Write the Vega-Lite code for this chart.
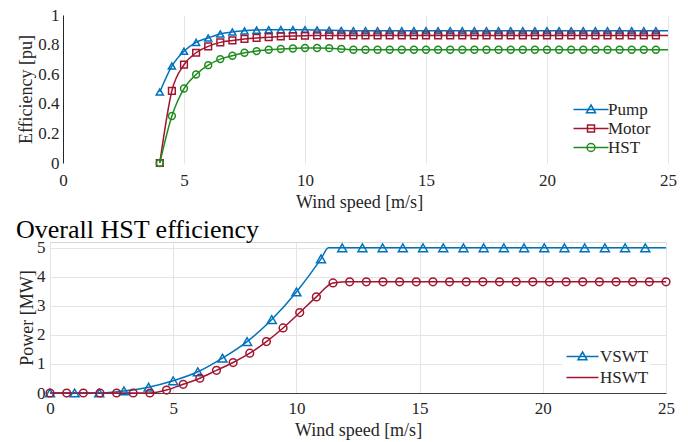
{
  "$schema": "https://vega.github.io/schema/vega-lite/v6.json",
  "background": "white",
  "padding": {"left": 15, "top": 6, "right": 5, "bottom": 2},
  "datasets": {
    "eff": [
      {"speed": 4, "value": 0.48, "series": "Pump", "marker": true},
      {"speed": 4.5, "value": 0.655, "series": "Pump", "marker": true},
      {"speed": 5, "value": 0.755, "series": "Pump", "marker": true},
      {"speed": 5.5, "value": 0.815, "series": "Pump", "marker": true},
      {"speed": 6, "value": 0.845, "series": "Pump", "marker": true},
      {"speed": 6.5, "value": 0.872, "series": "Pump", "marker": true},
      {"speed": 7, "value": 0.885, "series": "Pump", "marker": true},
      {"speed": 7.5, "value": 0.893, "series": "Pump", "marker": true},
      {"speed": 8, "value": 0.898, "series": "Pump", "marker": true},
      {"speed": 8.5, "value": 0.9, "series": "Pump", "marker": true},
      {"speed": 9, "value": 0.901, "series": "Pump", "marker": true},
      {"speed": 9.5, "value": 0.901, "series": "Pump", "marker": true},
      {"speed": 10, "value": 0.9, "series": "Pump", "marker": true},
      {"speed": 10.5, "value": 0.899, "series": "Pump", "marker": true},
      {"speed": 11, "value": 0.897, "series": "Pump", "marker": true},
      {"speed": 11.5, "value": 0.895, "series": "Pump", "marker": true},
      {"speed": 12, "value": 0.894, "series": "Pump", "marker": true},
      {"speed": 12.5, "value": 0.894, "series": "Pump", "marker": true},
      {"speed": 13, "value": 0.894, "series": "Pump", "marker": true},
      {"speed": 13.5, "value": 0.894, "series": "Pump", "marker": true},
      {"speed": 14, "value": 0.894, "series": "Pump", "marker": true},
      {"speed": 14.5, "value": 0.894, "series": "Pump", "marker": true},
      {"speed": 15, "value": 0.894, "series": "Pump", "marker": true},
      {"speed": 15.5, "value": 0.894, "series": "Pump", "marker": true},
      {"speed": 16, "value": 0.894, "series": "Pump", "marker": true},
      {"speed": 16.5, "value": 0.894, "series": "Pump", "marker": true},
      {"speed": 17, "value": 0.894, "series": "Pump", "marker": true},
      {"speed": 17.5, "value": 0.894, "series": "Pump", "marker": true},
      {"speed": 18, "value": 0.894, "series": "Pump", "marker": true},
      {"speed": 18.5, "value": 0.894, "series": "Pump", "marker": true},
      {"speed": 19, "value": 0.894, "series": "Pump", "marker": true},
      {"speed": 19.5, "value": 0.894, "series": "Pump", "marker": true},
      {"speed": 20, "value": 0.894, "series": "Pump", "marker": true},
      {"speed": 20.5, "value": 0.894, "series": "Pump", "marker": true},
      {"speed": 21, "value": 0.894, "series": "Pump", "marker": true},
      {"speed": 21.5, "value": 0.894, "series": "Pump", "marker": true},
      {"speed": 22, "value": 0.894, "series": "Pump", "marker": true},
      {"speed": 22.5, "value": 0.894, "series": "Pump", "marker": true},
      {"speed": 23, "value": 0.894, "series": "Pump", "marker": true},
      {"speed": 23.5, "value": 0.894, "series": "Pump", "marker": true},
      {"speed": 24, "value": 0.894, "series": "Pump", "marker": true},
      {"speed": 24.5, "value": 0.894, "series": "Pump", "marker": true},
      {"speed": 25, "value": 0.894, "series": "Pump", "marker": false},

      {"speed": 4, "value": 0, "series": "Motor", "marker": true},
      {"speed": 4.5, "value": 0.488, "series": "Motor", "marker": true},
      {"speed": 5, "value": 0.664, "series": "Motor", "marker": true},
      {"speed": 5.5, "value": 0.745, "series": "Motor", "marker": true},
      {"speed": 6, "value": 0.788, "series": "Motor", "marker": true},
      {"speed": 6.5, "value": 0.815, "series": "Motor", "marker": true},
      {"speed": 7, "value": 0.828, "series": "Motor", "marker": true},
      {"speed": 7.5, "value": 0.838, "series": "Motor", "marker": true},
      {"speed": 8, "value": 0.845, "series": "Motor", "marker": true},
      {"speed": 8.5, "value": 0.85, "series": "Motor", "marker": true},
      {"speed": 9, "value": 0.855, "series": "Motor", "marker": true},
      {"speed": 9.5, "value": 0.858, "series": "Motor", "marker": true},
      {"speed": 10, "value": 0.86, "series": "Motor", "marker": true},
      {"speed": 10.5, "value": 0.862, "series": "Motor", "marker": true},
      {"speed": 11, "value": 0.862, "series": "Motor", "marker": true},
      {"speed": 11.5, "value": 0.862, "series": "Motor", "marker": true},
      {"speed": 12, "value": 0.862, "series": "Motor", "marker": true},
      {"speed": 12.5, "value": 0.862, "series": "Motor", "marker": true},
      {"speed": 13, "value": 0.862, "series": "Motor", "marker": true},
      {"speed": 13.5, "value": 0.862, "series": "Motor", "marker": true},
      {"speed": 14, "value": 0.862, "series": "Motor", "marker": true},
      {"speed": 14.5, "value": 0.862, "series": "Motor", "marker": true},
      {"speed": 15, "value": 0.862, "series": "Motor", "marker": true},
      {"speed": 15.5, "value": 0.862, "series": "Motor", "marker": true},
      {"speed": 16, "value": 0.862, "series": "Motor", "marker": true},
      {"speed": 16.5, "value": 0.862, "series": "Motor", "marker": true},
      {"speed": 17, "value": 0.862, "series": "Motor", "marker": true},
      {"speed": 17.5, "value": 0.862, "series": "Motor", "marker": true},
      {"speed": 18, "value": 0.862, "series": "Motor", "marker": true},
      {"speed": 18.5, "value": 0.862, "series": "Motor", "marker": true},
      {"speed": 19, "value": 0.862, "series": "Motor", "marker": true},
      {"speed": 19.5, "value": 0.862, "series": "Motor", "marker": true},
      {"speed": 20, "value": 0.862, "series": "Motor", "marker": true},
      {"speed": 20.5, "value": 0.862, "series": "Motor", "marker": true},
      {"speed": 21, "value": 0.862, "series": "Motor", "marker": true},
      {"speed": 21.5, "value": 0.862, "series": "Motor", "marker": true},
      {"speed": 22, "value": 0.862, "series": "Motor", "marker": true},
      {"speed": 22.5, "value": 0.862, "series": "Motor", "marker": true},
      {"speed": 23, "value": 0.862, "series": "Motor", "marker": true},
      {"speed": 23.5, "value": 0.862, "series": "Motor", "marker": true},
      {"speed": 24, "value": 0.862, "series": "Motor", "marker": true},
      {"speed": 24.5, "value": 0.862, "series": "Motor", "marker": true},
      {"speed": 25, "value": 0.862, "series": "Motor", "marker": false},

      {"speed": 4, "value": 0, "series": "HST", "marker": true},
      {"speed": 4.5, "value": 0.318, "series": "HST", "marker": true},
      {"speed": 5, "value": 0.503, "series": "HST", "marker": true},
      {"speed": 5.5, "value": 0.598, "series": "HST", "marker": true},
      {"speed": 6, "value": 0.661, "series": "HST", "marker": true},
      {"speed": 6.5, "value": 0.702, "series": "HST", "marker": true},
      {"speed": 7, "value": 0.725, "series": "HST", "marker": true},
      {"speed": 7.5, "value": 0.745, "series": "HST", "marker": true},
      {"speed": 8, "value": 0.756, "series": "HST", "marker": true},
      {"speed": 8.5, "value": 0.765, "series": "HST", "marker": true},
      {"speed": 9, "value": 0.77, "series": "HST", "marker": true},
      {"speed": 9.5, "value": 0.774, "series": "HST", "marker": true},
      {"speed": 10, "value": 0.777, "series": "HST", "marker": true},
      {"speed": 10.5, "value": 0.777, "series": "HST", "marker": true},
      {"speed": 11, "value": 0.776, "series": "HST", "marker": true},
      {"speed": 11.5, "value": 0.771, "series": "HST", "marker": true},
      {"speed": 12, "value": 0.765, "series": "HST", "marker": true},
      {"speed": 12.5, "value": 0.765, "series": "HST", "marker": true},
      {"speed": 13, "value": 0.765, "series": "HST", "marker": true},
      {"speed": 13.5, "value": 0.765, "series": "HST", "marker": true},
      {"speed": 14, "value": 0.765, "series": "HST", "marker": true},
      {"speed": 14.5, "value": 0.765, "series": "HST", "marker": true},
      {"speed": 15, "value": 0.765, "series": "HST", "marker": true},
      {"speed": 15.5, "value": 0.765, "series": "HST", "marker": true},
      {"speed": 16, "value": 0.765, "series": "HST", "marker": true},
      {"speed": 16.5, "value": 0.765, "series": "HST", "marker": true},
      {"speed": 17, "value": 0.765, "series": "HST", "marker": true},
      {"speed": 17.5, "value": 0.765, "series": "HST", "marker": true},
      {"speed": 18, "value": 0.765, "series": "HST", "marker": true},
      {"speed": 18.5, "value": 0.765, "series": "HST", "marker": true},
      {"speed": 19, "value": 0.765, "series": "HST", "marker": true},
      {"speed": 19.5, "value": 0.765, "series": "HST", "marker": true},
      {"speed": 20, "value": 0.765, "series": "HST", "marker": true},
      {"speed": 20.5, "value": 0.765, "series": "HST", "marker": true},
      {"speed": 21, "value": 0.765, "series": "HST", "marker": true},
      {"speed": 21.5, "value": 0.765, "series": "HST", "marker": true},
      {"speed": 22, "value": 0.765, "series": "HST", "marker": true},
      {"speed": 22.5, "value": 0.765, "series": "HST", "marker": true},
      {"speed": 23, "value": 0.765, "series": "HST", "marker": true},
      {"speed": 23.5, "value": 0.765, "series": "HST", "marker": true},
      {"speed": 24, "value": 0.765, "series": "HST", "marker": true},
      {"speed": 24.5, "value": 0.765, "series": "HST", "marker": true},
      {"speed": 25, "value": 0.765, "series": "HST", "marker": false}
    ],
    "power": [
      {"speed": 0, "value": 0, "series": "VSWT", "marker": true},
      {"speed": 1, "value": 0, "series": "VSWT", "marker": true},
      {"speed": 2, "value": 0, "series": "VSWT", "marker": true},
      {"speed": 3, "value": 0.07, "series": "VSWT", "marker": true},
      {"speed": 4, "value": 0.2, "series": "VSWT", "marker": true},
      {"speed": 5, "value": 0.42, "series": "VSWT", "marker": true},
      {"speed": 6, "value": 0.73, "series": "VSWT", "marker": true},
      {"speed": 7, "value": 1.2, "series": "VSWT", "marker": true},
      {"speed": 8, "value": 1.77, "series": "VSWT", "marker": true},
      {"speed": 9, "value": 2.53, "series": "VSWT", "marker": true},
      {"speed": 10, "value": 3.48, "series": "VSWT", "marker": true},
      {"speed": 11, "value": 4.62, "series": "VSWT", "marker": true},
      {"speed": 11.3, "value": 5, "series": "VSWT", "marker": false},
      {"speed": 11.86, "value": 5, "series": "VSWT", "marker": true},
      {"speed": 12.68, "value": 5, "series": "VSWT", "marker": true},
      {"speed": 13.5, "value": 5, "series": "VSWT", "marker": true},
      {"speed": 14.32, "value": 5, "series": "VSWT", "marker": true},
      {"speed": 15.14, "value": 5, "series": "VSWT", "marker": true},
      {"speed": 15.96, "value": 5, "series": "VSWT", "marker": true},
      {"speed": 16.78, "value": 5, "series": "VSWT", "marker": true},
      {"speed": 17.6, "value": 5, "series": "VSWT", "marker": true},
      {"speed": 18.42, "value": 5, "series": "VSWT", "marker": true},
      {"speed": 19.24, "value": 5, "series": "VSWT", "marker": true},
      {"speed": 20.06, "value": 5, "series": "VSWT", "marker": true},
      {"speed": 20.88, "value": 5, "series": "VSWT", "marker": true},
      {"speed": 21.7, "value": 5, "series": "VSWT", "marker": true},
      {"speed": 22.52, "value": 5, "series": "VSWT", "marker": true},
      {"speed": 23.34, "value": 5, "series": "VSWT", "marker": true},
      {"speed": 24.16, "value": 5, "series": "VSWT", "marker": true},
      {"speed": 25, "value": 5, "series": "VSWT", "marker": false},

      {"speed": 0, "value": 0, "series": "HSWT", "marker": true},
      {"speed": 0.676, "value": 0, "series": "HSWT", "marker": true},
      {"speed": 1.351, "value": 0, "series": "HSWT", "marker": true},
      {"speed": 2.027, "value": 0, "series": "HSWT", "marker": true},
      {"speed": 2.703, "value": 0, "series": "HSWT", "marker": true},
      {"speed": 3.378, "value": 0, "series": "HSWT", "marker": true},
      {"speed": 4.054, "value": 0, "series": "HSWT", "marker": true},
      {"speed": 4.73, "value": 0.1, "series": "HSWT", "marker": true},
      {"speed": 5.405, "value": 0.3, "series": "HSWT", "marker": true},
      {"speed": 6.081, "value": 0.51, "series": "HSWT", "marker": true},
      {"speed": 6.757, "value": 0.78, "series": "HSWT", "marker": true},
      {"speed": 7.432, "value": 1.05, "series": "HSWT", "marker": true},
      {"speed": 8.108, "value": 1.37, "series": "HSWT", "marker": true},
      {"speed": 8.784, "value": 1.77, "series": "HSWT", "marker": true},
      {"speed": 9.459, "value": 2.24, "series": "HSWT", "marker": true},
      {"speed": 10.135, "value": 2.77, "series": "HSWT", "marker": true},
      {"speed": 10.811, "value": 3.31, "series": "HSWT", "marker": true},
      {"speed": 11.486, "value": 3.79, "series": "HSWT", "marker": true},
      {"speed": 12.162, "value": 3.83, "series": "HSWT", "marker": true},
      {"speed": 12.838, "value": 3.83, "series": "HSWT", "marker": true},
      {"speed": 13.514, "value": 3.83, "series": "HSWT", "marker": true},
      {"speed": 14.189, "value": 3.83, "series": "HSWT", "marker": true},
      {"speed": 14.865, "value": 3.83, "series": "HSWT", "marker": true},
      {"speed": 15.541, "value": 3.83, "series": "HSWT", "marker": true},
      {"speed": 16.216, "value": 3.83, "series": "HSWT", "marker": true},
      {"speed": 16.892, "value": 3.83, "series": "HSWT", "marker": true},
      {"speed": 17.568, "value": 3.83, "series": "HSWT", "marker": true},
      {"speed": 18.243, "value": 3.83, "series": "HSWT", "marker": true},
      {"speed": 18.919, "value": 3.83, "series": "HSWT", "marker": true},
      {"speed": 19.595, "value": 3.83, "series": "HSWT", "marker": true},
      {"speed": 20.27, "value": 3.83, "series": "HSWT", "marker": true},
      {"speed": 20.946, "value": 3.83, "series": "HSWT", "marker": true},
      {"speed": 21.622, "value": 3.83, "series": "HSWT", "marker": true},
      {"speed": 22.297, "value": 3.83, "series": "HSWT", "marker": true},
      {"speed": 22.973, "value": 3.83, "series": "HSWT", "marker": true},
      {"speed": 23.649, "value": 3.83, "series": "HSWT", "marker": true},
      {"speed": 24.324, "value": 3.83, "series": "HSWT", "marker": true},
      {"speed": 25, "value": 3.83, "series": "HSWT", "marker": true}
    ]
  },
  "config": {
    "font": "Liberation Serif",
    "axis": {
      "labelFont": "Liberation Serif", "labelFontSize": 17, "labelColor": "#262626",
      "titleFont": "Liberation Serif", "titleFontSize": 18, "titleFontWeight": "normal", "titleColor": "#262626",
      "gridColor": "#e4e4e4", "gridWidth": 1, "ticks": false, "domain": false, "minExtent": 0, "labelFlush": false
    },
    "legend": {
      "labelFont": "Liberation Serif", "labelFontSize": 17, "labelColor": "#262626",
      "title": null
    }
  },
  "resolve": {
    "scale": {"color": "independent", "stroke": "independent", "shape": "independent", "size": "independent"},
    "legend": {"color": "independent", "stroke": "independent", "shape": "independent", "size": "independent"}
  },
  "spacing": 5,
  "vconcat": [
    {
      "width": 618, "height": 148,
      "view": {"stroke": null},
      "encoding": {
        "x": {"field": "speed", "type": "quantitative", "scale": {"domain": [-0.537, 25], "nice": false, "zero": false},
              "axis": {"values": [0, 5, 10, 15, 20, 25], "title": "Wind speed [m/s]", "labelPadding": 9, "titlePadding": 5, "grid": true,
                       "labelFont": "Liberation Serif", "titleFont": "Liberation Serif"}},
        "y": {"field": "value", "type": "quantitative", "scale": {"domain": [0, 1], "nice": false},
              "axis": {"values": [0, 0.2, 0.4, 0.6, 0.8, 1], "format": "~g", "title": "Efficiency [pu]", "labelPadding": 4, "titlePadding": 2,
                       "offset": -13, "grid": false, "domain": true, "domainColor": "#262626", "domainWidth": 1,
                       "labelFont": "Liberation Serif", "titleFont": "Liberation Serif"}}
      },
      "layer": [
        {"data": {"values": [{}]}, "mark": {"type": "rule", "color": "#e4e4e4", "strokeWidth": 1},
         "encoding": {"x": {"datum": 0, "type": "quantitative"}, "x2": {"datum": 25}, "y": {"datum": 0.2, "type": "quantitative"}}},
        {"data": {"values": [{}]}, "mark": {"type": "rule", "color": "#e4e4e4", "strokeWidth": 1},
         "encoding": {"x": {"datum": 0, "type": "quantitative"}, "x2": {"datum": 25}, "y": {"datum": 0.4, "type": "quantitative"}}},
        {"data": {"values": [{}]}, "mark": {"type": "rule", "color": "#e4e4e4", "strokeWidth": 1},
         "encoding": {"x": {"datum": 0, "type": "quantitative"}, "x2": {"datum": 25}, "y": {"datum": 0.6, "type": "quantitative"}}},
        {"data": {"values": [{}]}, "mark": {"type": "rule", "color": "#e4e4e4", "strokeWidth": 1},
         "encoding": {"x": {"datum": 0, "type": "quantitative"}, "x2": {"datum": 25}, "y": {"datum": 0.8, "type": "quantitative"}}},
        {"data": {"values": [{}]}, "mark": {"type": "rule", "color": "#262626", "strokeWidth": 1},
         "encoding": {"x": {"datum": 0, "type": "quantitative"}, "x2": {"datum": 25}, "y": {"datum": 0, "type": "quantitative"}}},
        {"data": {"values": [{}]}, "mark": {"type": "rule", "color": "#262626", "strokeWidth": 1},
         "encoding": {"x": {"datum": 0, "type": "quantitative"}, "x2": {"datum": 25}, "y": {"datum": 1, "type": "quantitative"}}},
        {"data": {"values": [{}]}, "mark": {"type": "rule", "color": "#262626", "strokeWidth": 1},
         "encoding": {"x": {"datum": 25, "type": "quantitative"}, "y": {"datum": 0, "type": "quantitative"}, "y2": {"datum": 1}}},
        {
          "data": {"name": "eff"},
          "mark": {"type": "line", "interpolate": "monotone", "strokeWidth": 1.5},
          "encoding": {
            "color": {"field": "series", "type": "nominal",
              "scale": {"domain": ["Pump", "Motor", "HST"], "range": ["#0072BD", "#A2142F", "#1E8C1E"]},
              "legend": {
                "orient": "none", "legendX": 519, "legendY": 85, "direction": "vertical",
                "title": null, "padding": 1, "fillColor": "white",
                "labelFont": "Liberation Serif", "labelFontSize": 17,
                "symbolSize": 100, "symbolStrokeWidth": 1.5, "labelOffset": 21, "rowPadding": 1,
                "encode": {"symbols": {"update": {
                  "shape": {"signal": "datum.value === 'Pump' ? 'M-1,0H6M2.5,-0.9L3.4,0.65L1.6,0.65Z' : datum.value === 'Motor' ? 'M-1,0H6M1.8,-0.7H3.2V0.7H1.8Z' : 'M-1,0H6M3.3,0A0.8,0.8,0,1,1,1.7,0A0.8,0.8,0,1,1,3.3,0'"},
                  "fill": {"value": "transparent"}
                }}}
              }
            }
          }
        },
        {
          "data": {"name": "eff"},
          "transform": [{"filter": "datum.marker"}],
          "mark": {"type": "point", "filled": false, "strokeWidth": 1.5, "opacity": 1},
          "encoding": {
            "stroke": {"field": "series", "type": "nominal", "legend": null,
              "scale": {"domain": ["HST", "Motor", "Pump"], "range": ["#1E8C1E", "#A2142F", "#0072BD"]}},
            "shape": {"field": "series", "type": "nominal", "legend": null,
              "scale": {"domain": ["HST", "Pump", "Motor"], "range": ["circle", "triangle-up", "square"]}},
            "size": {"field": "series", "type": "ordinal", "legend": null,
              "scale": {"domain": ["Motor", "HST", "Pump"], "range": [45, 50, 80]}}
          }
        }
      ]
    },
    {
      "width": 616, "height": 151,
      "title": {"text": "Overall HST efficiency", "anchor": "start", "frame": "bounds", "fontSize": 26,
                "font": "Liberation Serif", "fontWeight": "normal", "color": "black", "offset": -4, "dx": -2},
      "data": {"name": "power"},
      "view": {"stroke": "#d6d6d6", "strokeWidth": 1},
      "encoding": {
        "x": {"field": "speed", "type": "quantitative", "scale": {"domain": [0, 25], "nice": false},
              "axis": {"values": [0, 5, 10, 15, 20, 25], "title": "Wind speed [m/s]", "labelPadding": 7, "titlePadding": 5,
                       "grid": true, "domain": true, "domainColor": "#404040", "domainWidth": 1,
                       "labelFont": "Liberation Serif", "titleFont": "Liberation Serif"}},
        "y": {"field": "value", "type": "quantitative", "scale": {"domain": [0, 5.2], "nice": false},
              "axis": {"values": [0, 1, 2, 3, 4, 5], "format": "d", "title": "Power [MW]", "labelPadding": 5, "titlePadding": 0.5, "grid": true,
                       "labelFont": "Liberation Serif", "titleFont": "Liberation Serif"}}
      },
      "layer": [
        {
          "mark": {"type": "line", "interpolate": "monotone", "strokeWidth": 1.5},
          "encoding": {
            "color": {"field": "series", "type": "nominal",
              "scale": {"domain": ["VSWT", "HSWT"], "range": ["#0072BD", "#A2142F"]},
              "legend": {
                "orient": "none", "legendX": 512, "legendY": 105, "direction": "vertical",
                "title": null, "padding": 1, "fillColor": "white",
                "labelFont": "Liberation Serif", "labelFontSize": 17,
                "symbolSize": 100, "symbolStrokeWidth": 1.5, "labelOffset": 20, "rowPadding": 3,
                "encode": {"symbols": {"update": {
                  "shape": {"signal": "datum.value === 'VSWT' ? 'M-1,0H5.4M2.2,-0.9L3.1,0.65L1.3,0.65Z' : 'M-1,0H5.4'"},
                  "fill": {"value": "transparent"}
                }}}
              }
            }
          }
        },
        {
          "transform": [{"filter": "datum.marker"}],
          "mark": {"type": "point", "filled": false, "strokeWidth": 1.5, "opacity": 1},
          "encoding": {
            "stroke": {"field": "series", "type": "nominal", "legend": null,
              "scale": {"domain": ["HSWT", "VSWT"], "range": ["#A2142F", "#0072BD"]}},
            "shape": {"field": "series", "type": "nominal", "legend": null,
              "scale": {"domain": ["HSWT", "VSWT"], "range": ["circle", "triangle-up"]}},
            "size": {"field": "series", "type": "ordinal", "legend": null,
              "scale": {"domain": ["HSWT", "VSWT"], "range": [60, 80]}}
          }
        }
      ]
    }
  ]
}
